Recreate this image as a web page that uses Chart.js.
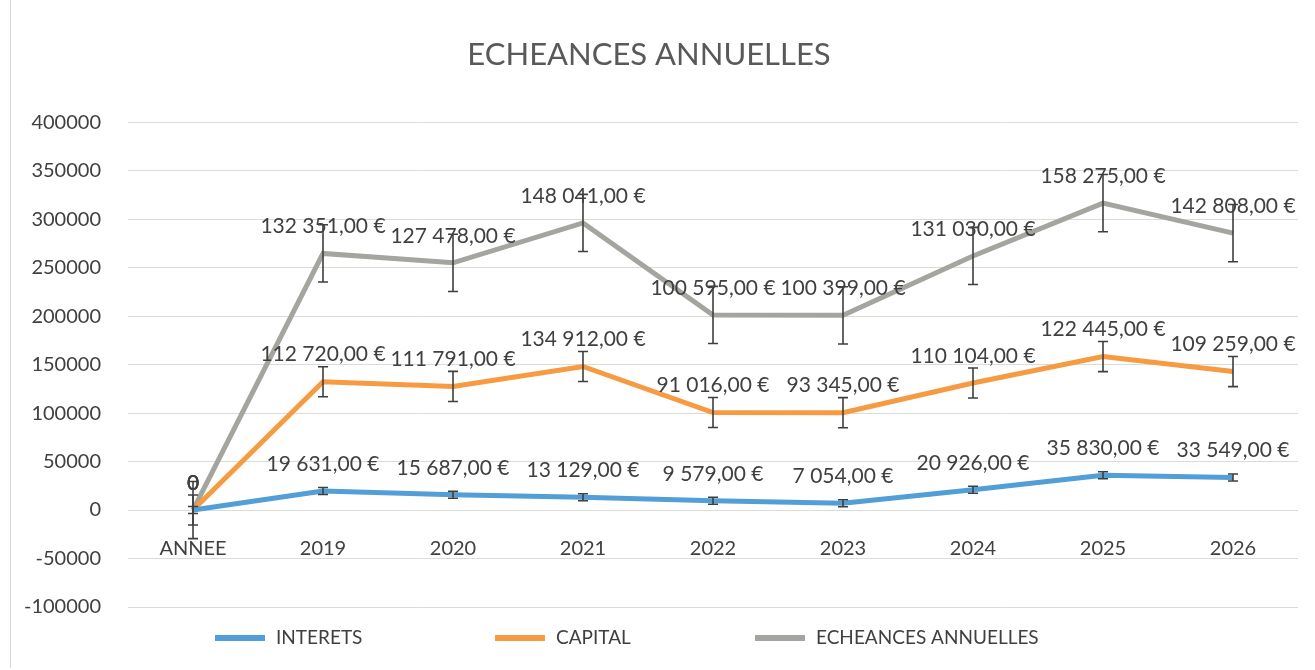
<!DOCTYPE html>
<html>
<head>
<meta charset="utf-8">
<script src="https://cdn.jsdelivr.net/npm/chart.js@4"></script>
<style>
  html, body { margin: 0; padding: 0; background: #fff; }
  #wrap { width: 1315px; height: 670px; position: relative; }
  #frame { position: absolute; left: 10px; top: 0; width: 1300px; height: 668px; border-left: 1px solid #d8d8d8; }
</style>
</head>
<body>
<div id="wrap">
  <div id="frame"></div>
  <canvas id="chart_echeances" width="1315" height="670"></canvas>
</div>
<script>
// Echeances annuelles - stacked line chart

// categories
var annees = ["ANNEE", "2019", "2020", "2021", "2022", "2023", "2024", "2025", "2026"];

// series values (euros)
var interets = [0, 19631, 15687, 13129, 9579, 7054, 20926, 35830, 33549];
var capital = [0, 112720, 111791, 134912, 91016, 93345, 110104, 122445, 109259];
var echeances = [0, 132351, 127478, 148041, 100595, 100399, 131030, 158275, 142808];

// error bar half size per series
var errInterets = 3600;
var errCapital = 15500;
var errEcheances = 29500;

// y axis ticks
var yMin = -100000;
var yMax = 400000;
var yStep = 50000;

var textColor = "#404040";

//format like the excel labels: 132 351,00 €
function formatEuro(v) {
    if (v === 0) return "0";
    var parts = v.toFixed(2).split(".");
    var ent = parts[0].replace(/\B(?=(\d{3})+(?!\d))/g, " ");
    return ent + "," + parts[1] + " €";
}

//plugin drawing error bars and data labels on each point
var labelsAndErrors = {
    id: "labelsAndErrors",
    afterDatasetsDraw: function(chart) {
        var ctx = chart.ctx;
        var yScale = chart.scales.y;
        chart.data.datasets.forEach(function(ds, i) {
            var meta = chart.getDatasetMeta(i);
            meta.data.forEach(function(pt, j) {
                // stacked value at this point
                var stacked = yScale.getValueForPixel(pt.y);
                var top = yScale.getPixelForValue(stacked + ds.errorBar);
                var bottom = yScale.getPixelForValue(stacked - ds.errorBar);
                ctx.save();
                ctx.strokeStyle = "#3f3f3f";
                ctx.lineWidth = 1.6;
                ctx.beginPath();
                ctx.moveTo(pt.x, top);
                ctx.lineTo(pt.x, bottom);
                ctx.moveTo(pt.x - 5, top);
                ctx.lineTo(pt.x + 5, top);
                ctx.moveTo(pt.x - 5, bottom);
                ctx.lineTo(pt.x + 5, bottom);
                ctx.stroke();
                ctx.restore();
            });
        });
        chart.data.datasets.forEach(function(ds, i) {
            var meta = chart.getDatasetMeta(i);
            meta.data.forEach(function(pt, j) {
                ctx.save();
                ctx.font = "21px Lato";
                ctx.fillStyle = textColor;
                ctx.textAlign = "center";
                ctx.textBaseline = "middle";
                ctx.fillText(formatEuro(ds.data[j]), pt.x, pt.y - 27);
                ctx.restore();
            });
        });
    }
};

//legend drawn by hand, the built-in one can not space the items like excel
var bottomLegend = {
    id: "bottomLegend",
    afterDraw: function(chart) {
        var ctx = chart.ctx;
        var starts = [215, 495, 755];
        var y = 638;
        chart.data.datasets.forEach(function(ds, i) {
            var x = starts[i];
            ctx.save();
            ctx.fillStyle = ds.borderColor;
            ctx.fillRect(x, y - 3, 50, 6);
            ctx.font = "19px Lato";
            ctx.fillStyle = textColor;
            ctx.textAlign = "left";
            ctx.textBaseline = "middle";
            ctx.fillText(ds.label, x + 61, y);
            ctx.restore();
        });
    }
};

var ctxEch = document.getElementById("chart_echeances").getContext("2d");
var chartEch = new Chart(ctxEch, {
    type: "line",
    data: {
        labels: annees,
        datasets: [{
            label: "INTERETS",
            data: interets,
            borderColor: "#529fd8",
            backgroundColor: "#529fd8",
            errorBar: errInterets
        }, {
            label: "CAPITAL",
            data: capital,
            borderColor: "#f69b42",
            backgroundColor: "#f69b42",
            errorBar: errCapital
        }, {
            label: "ECHEANCES ANNUELLES",
            data: echeances,
            borderColor: "#a4a59e",
            backgroundColor: "#a4a59e",
            errorBar: errEcheances
        }]
    },
    options: {
        responsive: false,
        animation: false,
        elements: {
            line: { borderWidth: 5, tension: 0, fill: false },
            point: { radius: 0, hoverRadius: 0 }
        },
        layout: { padding: { left: 0, right: 17, top: 0, bottom: 63 } },
        plugins: {
            title: {
                display: true,
                text: "ECHEANCES ANNUELLES",
                color: "#595959",
                font: { family: "Lato", size: 31, weight: "normal" },
                padding: { top: 36, bottom: 49 }
            },
            legend: { display: false },
            tooltip: { enabled: false }
        },
        scales: {
            x: {
                position: { y: 0 },
                offset: true,
                afterFit: function(scale) { scale.height = 0; },
                grid: { display: false },
                border: { display: false },
                ticks: { color: textColor, font: { family: "Lato", size: 20 }, padding: 19 }
            },
            y: {
                stacked: true,
                min: yMin,
                max: yMax,
                afterFit: function(scale) { scale.width = 128; },
                grid: { color: "#dcdcd6", drawTicks: false },
                border: { display: false },
                ticks: {
                    stepSize: yStep,
                    color: textColor,
                    font: { family: "Lato", size: 20 },
                    padding: 27,
                    callback: function(v) { return String(v); }
                }
            }
        }
    },
    plugins: [labelsAndErrors, bottomLegend]
});
</script>
</body>
</html>
